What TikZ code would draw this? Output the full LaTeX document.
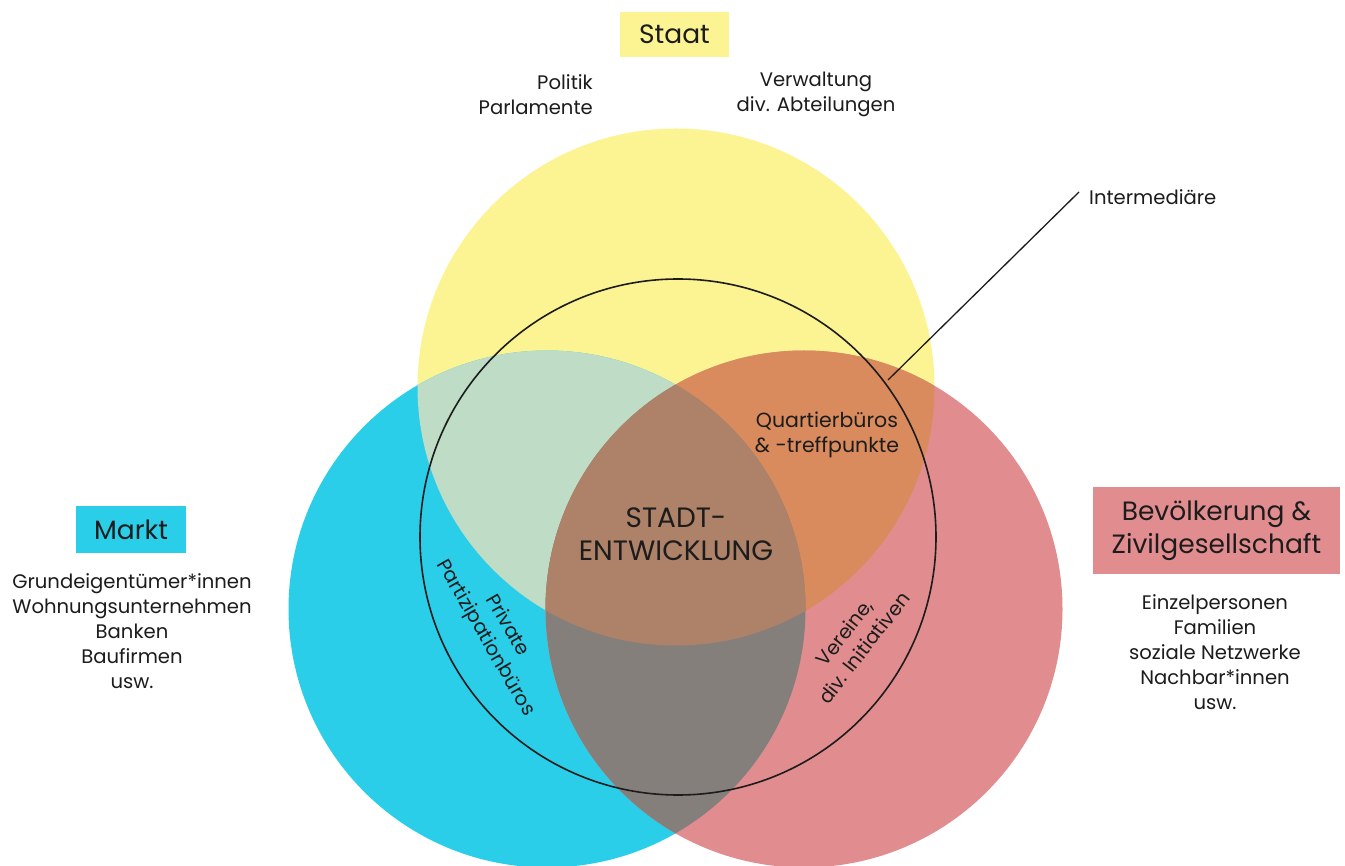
\documentclass[tikz,border=0pt]{standalone}
\usepackage{fontspec}
\setmainfont{Poppins}
\definecolor{ink}{HTML}{1C1C1C}
\definecolor{staatC}{HTML}{FCF492}
\definecolor{marktC}{HTML}{2ACEE9}
\definecolor{buergerC}{HTML}{E18D8F}
\definecolor{staatMarkt}{HTML}{BEDCC6}
\definecolor{staatBuerger}{HTML}{D98B5E}
\definecolor{marktBuerger}{HTML}{857F7C}
\definecolor{alleDrei}{HTML}{AD8268}
\begin{document}
\begin{tikzpicture}[x=1pt,y=-1pt,
  body/.style={font=\fontsize{19.6}{25}\selectfont, text=ink, align=center, inner sep=0pt},
  titlebox/.style={font=\fontsize{26.5}{33}\selectfont, text=ink, align=center, inner sep=0pt},
  ring/.style={draw=ink, line width=1.6pt},
  leader/.style={draw=ink, line width=1.3pt}]
\useasboundingbox[fill=white] (0,0) rectangle (1345,866);

% circle centres
\coordinate (S) at (676,387);
\coordinate (M) at (547,609);
\coordinate (B) at (804,609);
\coordinate (K) at (678,537);
\def\R{258.5pt}

% base circles
\fill[staatC] (S) circle (\R);
\fill[marktC] (M) circle (\R);
\fill[buergerC] (B) circle (\R);

% pairwise overlaps
\begin{scope}
  \clip (S) circle (\R);
  \fill[staatMarkt] (M) circle (\R);
  \fill[staatBuerger] (B) circle (\R);
\end{scope}
\begin{scope}
  \clip (M) circle (\R);
  \fill[marktBuerger] (B) circle (\R);
\end{scope}
% centre overlap
\begin{scope}
  \clip (S) circle (\R);
  \clip (M) circle (\R);
  \fill[alleDrei] (B) circle (\R);
\end{scope}

% intermediary ring
\draw[ring] (K) circle (258pt);

% headings
\node[titlebox, fill=staatC, minimum width=109pt, minimum height=45pt] (staat) at (674.5,34.5) {Staat};
\node[titlebox, fill=marktC, minimum width=110pt, minimum height=47pt] (markt) at (131,529.5) {Markt};
\node[titlebox, fill=buergerC, minimum width=247pt, minimum height=87pt] (buerger) at (1216.5,530.5) {Bevölkerung \&\\Zivilgesellschaft};

% lists
\node[body, align=right, anchor=east] (politik) at (593,94.5) {Politik\\Parlamente};
\node[body] (verwaltung) at (816,94.5) {Verwaltung\\div. Abteilungen};
\node[body] (marktliste) at (132,631.5) {Grundeigentümer*innen\\Wohnungsunternehmen\\Banken\\Baufirmen\\usw.};
\node[body] (buergerliste) at (1215,652) {Einzelpersonen\\Familien\\soziale Netzwerke\\Nachbar*innen\\usw.};

% inside the circles
\node[body, font=\fontsize{28}{33}\selectfont] (stadt) at (676,534) {STADT-\\ENTWICKLUNG};
\node[body, font=\fontsize{20.5}{25}\selectfont] (quartier) at (827,435) {Quartierbüros\\\& -treffpunkte};
\node[body, rotate=-60] (privat) at (496,632) {Private\\Partizipationbüros};
\node[body, rotate=52] (vereine) at (854,640) {Vereine,\\div. Initiativen};

% leader to the ring
\node[body, anchor=west] (inter) at (1089,197) {Intermediäre};
\coordinate (ringpunkt) at (888,380);
\draw[leader] (ringpunkt) -- ([xshift=-10pt,yshift=5pt]inter.west);
\end{tikzpicture}
\end{document}
